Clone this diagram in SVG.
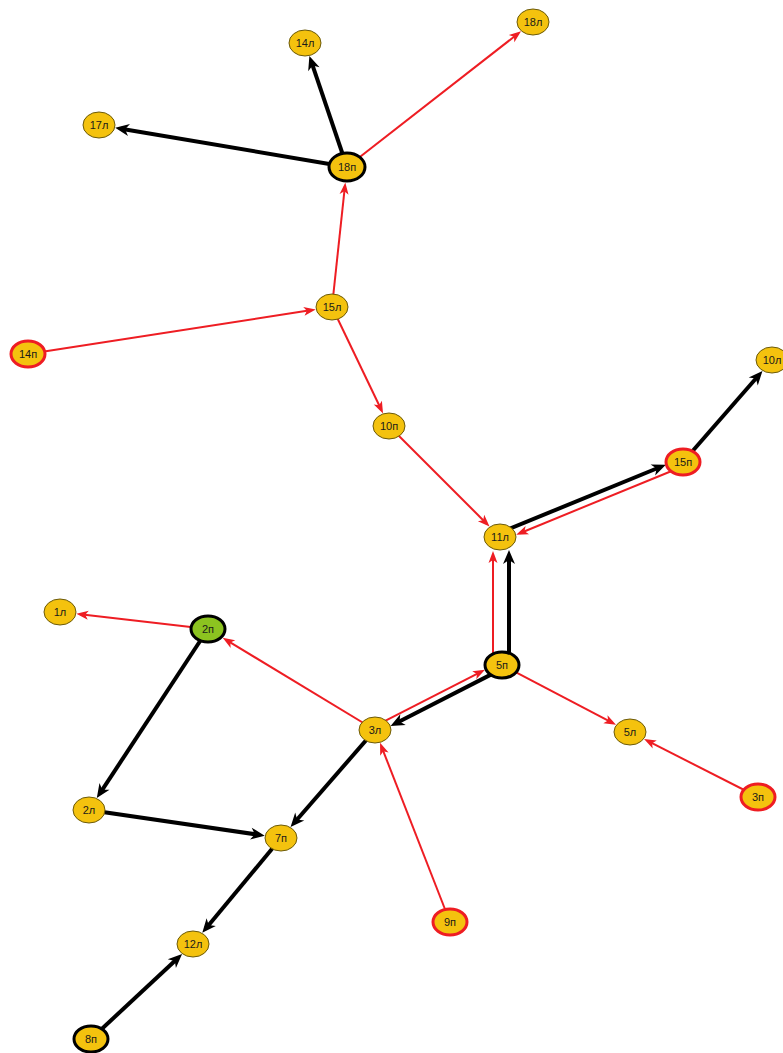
<svg xmlns="http://www.w3.org/2000/svg" width="783" height="1053" viewBox="0 0 783 1053">
<style>
.e{fill:none;stroke-linecap:butt}
.b{stroke:#000;stroke-width:4;marker-end:url(#ab)}
.r{stroke:#EE1D23;stroke-width:2;marker-end:url(#ar)}
.n ellipse{fill:#F4C20E;stroke:#6B5A0A;stroke-width:1}
.n.k ellipse{stroke:#000;stroke-width:3}
.n.h ellipse{stroke:#EE1D23;stroke-width:3}
.n.g ellipse{fill:#8CC320;stroke:#000;stroke-width:3}
.n text{font-family:"Liberation Sans",Arial,sans-serif;font-size:11px;fill:#1a1a1a;text-anchor:middle;dominant-baseline:central}
</style>
<defs>
<marker id="ab" markerUnits="userSpaceOnUse" markerWidth="14" markerHeight="12" refX="8" refY="6" orient="auto" overflow="visible">
<path d="M0,0 L14,6 L0,12 L4,6 z" fill="#000"/>
</marker>
<marker id="ar" markerUnits="userSpaceOnUse" markerWidth="12" markerHeight="9" refX="8" refY="4.5" orient="auto" overflow="visible">
<path d="M0,0 L12,4.5 L0,9 L3,4.5 z" fill="#EE1D23"/>
</marker>
</defs>
<rect width="783" height="1053" fill="#fff"/>
<g id="connectors">
<path class="e b" d="M347,167 L311.3,61.7"/>
<path class="e b" d="M347,167 L121.1,128.7"/>
<path class="e r" d="M347,167 L517.9,33.7"/>
<path class="e r" d="M332,307 L344.9,186.4"/>
<path class="e r" d="M28,354 L311.8,310.1"/>
<path class="e r" d="M332,307 L381.3,409.8"/>
<path class="e r" d="M389,426 L486.7,523.7"/>
<path class="e b" d="M498.5,533.3 L660.3,467"/>
<path class="e r" d="M684.5,465.7 L519.9,533.2"/>
<path class="e b" d="M683,462 L758.5,375.5"/>
<path class="e b" d="M509,665 L509,556"/>
<path class="e r" d="M493,665 L493,555"/>
<path class="e r" d="M373.4,726.9 L481.4,671.6"/>
<path class="e b" d="M503.6,668.1 L395.9,723.2"/>
<path class="e r" d="M375,730 L226.1,639.9"/>
<path class="e r" d="M208,629 L80.3,614.3"/>
<path class="e r" d="M502,665 L612.5,722.9"/>
<path class="e r" d="M758,797 L647.6,740.9"/>
<path class="e r" d="M450,922 L381.5,746.6"/>
<path class="e b" d="M375,730 L294.5,822.5"/>
<path class="e b" d="M208,629 L100.1,793.1"/>
<path class="e b" d="M89,810 L258.8,834.8"/>
<path class="e b" d="M281,838 L206.1,928.2"/>
<path class="e b" d="M91,1039 L177.7,958.2"/>
</g>
<g id="n18l" class="n"><ellipse cx="533" cy="22" rx="16" ry="13"/><text x="533" y="22">18л</text></g>
<g id="n14l" class="n"><ellipse cx="305" cy="43" rx="16" ry="13"/><text x="305" y="43">14л</text></g>
<g id="n17l" class="n"><ellipse cx="99" cy="125" rx="16" ry="13"/><text x="99" y="125">17л</text></g>
<g id="n18p" class="n k"><ellipse cx="347" cy="167" rx="18" ry="14"/><text x="347" y="167">18п</text></g>
<g id="n15l" class="n"><ellipse cx="332" cy="307" rx="16" ry="13"/><text x="332" y="307">15л</text></g>
<g id="n14p" class="n h"><ellipse cx="28" cy="354" rx="17" ry="13"/><text x="28" y="354">14п</text></g>
<g id="n10l" class="n"><ellipse cx="772" cy="360" rx="16" ry="13"/><text x="772" y="360">10л</text></g>
<g id="n10p" class="n"><ellipse cx="389" cy="426" rx="16" ry="13"/><text x="389" y="426">10п</text></g>
<g id="n15p" class="n h"><ellipse cx="683" cy="462" rx="17" ry="13"/><text x="683" y="462">15п</text></g>
<g id="n11l" class="n"><ellipse cx="500" cy="537" rx="16" ry="13"/><text x="500" y="537">11л</text></g>
<g id="n1l" class="n"><ellipse cx="60" cy="612" rx="16" ry="13"/><text x="60" y="612">1л</text></g>
<g id="n2p" class="n g"><ellipse cx="208" cy="629" rx="17" ry="13"/><text x="208" y="629">2п</text></g>
<g id="n5p" class="n k"><ellipse cx="502" cy="665" rx="17" ry="13"/><text x="502" y="665">5п</text></g>
<g id="n3l" class="n"><ellipse cx="375" cy="730" rx="16" ry="13"/><text x="375" y="730">3л</text></g>
<g id="n5l" class="n"><ellipse cx="630" cy="732" rx="16" ry="13"/><text x="630" y="732">5л</text></g>
<g id="n3p" class="n h"><ellipse cx="758" cy="797" rx="17" ry="13"/><text x="758" y="797">3п</text></g>
<g id="n2l" class="n"><ellipse cx="89" cy="810" rx="16" ry="13"/><text x="89" y="810">2л</text></g>
<g id="n7p" class="n"><ellipse cx="281" cy="838" rx="16" ry="13"/><text x="281" y="838">7п</text></g>
<g id="n9p" class="n h"><ellipse cx="450" cy="922" rx="17" ry="13"/><text x="450" y="922">9п</text></g>
<g id="n12l" class="n"><ellipse cx="193" cy="944" rx="16" ry="13"/><text x="193" y="944">12л</text></g>
<g id="n8p" class="n k"><ellipse cx="91" cy="1039" rx="17" ry="13"/><text x="91" y="1039">8п</text></g>
</svg>
